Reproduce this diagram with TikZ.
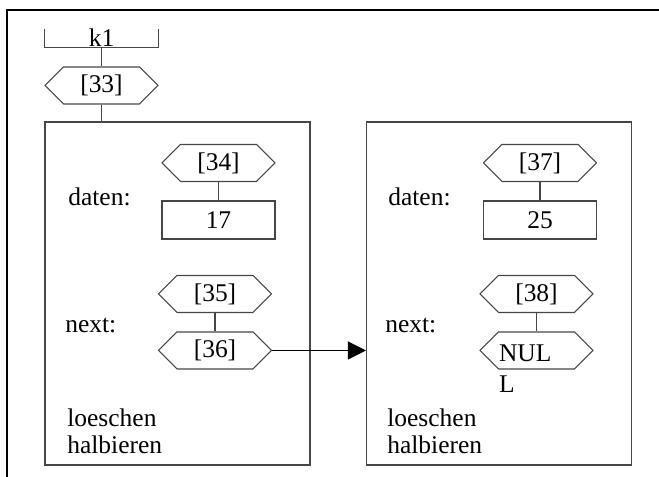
\documentclass[tikz,border=0pt]{standalone}
\usepackage{fontspec}
\setmainfont{Liberation Serif}
\usetikzlibrary{arrows.meta,positioning,shapes.symbols}
\definecolor{linegray}{RGB}{70,70,70}
\newcommand{\listfont}{\fontsize{14.5}{17.4}\selectfont}
\tikzset{
  ptr/.style={draw=linegray, signal, signal to=west and east, signal pointer angle=90,
              minimum width=22.6mm, minimum height=7.4mm, inner sep=0pt,
              line width=0.6pt, font=\listfont},
  valbox/.style={draw=linegray, rectangle, minimum width=22.6mm, minimum height=7.6mm,
                 inner sep=0pt, line width=0.6pt, font=\listfont},
  elembox/.style={draw=linegray, rectangle, minimum width=53mm, minimum height=68.6mm,
                  inner sep=0pt, line width=0.6pt},
  varname/.style={minimum width=22.6mm, minimum height=3.6mm, inner sep=0pt, font=\listfont},
  fieldlabel/.style={anchor=base west, inner sep=0pt, font=\listfont},
  methods/.style={anchor=north west, inner sep=0pt, align=left,
                  font=\fontsize{14.5}{15.4}\selectfont},
  conn/.style={draw=linegray, line width=0.6pt},
  arrow/.style={-{Triangle[length=3.6mm,width=3.6mm]}, line width=0.6pt, draw=black},
}
\begin{document}
\begin{tikzpicture}
\useasboundingbox (0,0) rectangle (13.18,-9.54);
\draw[line width=0.8pt] (13.18,-0.20) -- (0.14,-0.20) -- (0.14,-9.54);

% ================= variable k1 =================
\node[varname] (k1) at (2.03,-0.76) {k1};
\draw[conn] (k1.north west) -- (k1.south west) -- (k1.south east) -- (k1.north east);
\node[ptr] (p33) at (2.03,-1.71) {[33]};

% ================= first element =================
\node[elembox] (elem1) at (3.55,-5.87) {};
\node[ptr] (p34) at (4.37,-3.26) {[34]};
\node[valbox] (v17) at (4.37,-4.40) {17};
\node[ptr] (p35) at (4.30,-5.88) {[35]};
\node[ptr] (p36) at (4.30,-7.01) {[36]};
\node[fieldlabel] (daten1) at (1.36,-4.12) {daten:};
\node[fieldlabel] (next1) at (1.30,-6.66) {next:};
\node[methods] (meth1) at (1.34,-8.16) {loeschen\\halbieren};

% ================= second element =================
\node[elembox] (elem2) at (9.98,-5.87) {};
\node[ptr] (p37) at (10.80,-3.26) {[37]};
\node[valbox] (v25) at (10.80,-4.40) {25};
\node[ptr] (p38) at (10.73,-5.88) {[38]};
\node[ptr, text width=1.5cm, align=left, text height=4.6mm, text depth=0pt] (pnul)
  at (10.73,-7.01) {NUL\\L};
\node[fieldlabel] (daten2) at (7.76,-4.12) {daten:};
\node[fieldlabel] (next2) at (7.70,-6.66) {next:};
\node[methods] (meth2) at (7.74,-8.16) {loeschen\\halbieren};

% links
\draw[conn] (k1.south) -- (p33.north);
\draw[conn] (p33.south) -- (elem1.north -| p33.south);
\draw[conn] (p34.south) -- (v17.north -| p34.south);
\draw[conn] (p35.south) -- (p36.north);
\draw[conn] (p37.south) -- (v25.north -| p37.south);
\draw[conn] (p38.south) -- (pnul.north);
\draw[arrow] (p36.east) -- (p36.east -| elem2.west);

\end{tikzpicture}
\end{document}
